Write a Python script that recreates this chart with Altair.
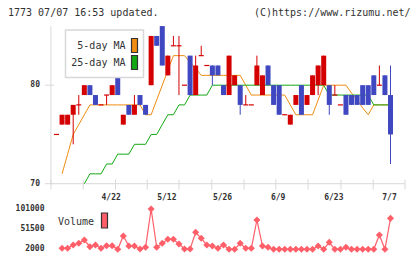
import altair as alt
import pandas as pd

# ---------------- data ----------------
dates = ["4/8", "4/9", "4/10", "4/13", "4/14", "4/15", "4/16", "4/17", "4/20", "4/21",
         "4/22", "4/23", "4/24", "4/27", "4/28", "4/30", "5/1", "5/7", "5/8", "5/11",
         "5/12", "5/13", "5/14", "5/15", "5/18", "5/19", "5/20", "5/21", "5/22", "5/25",
         "5/26", "5/27", "5/28", "5/29", "6/1", "6/2", "6/3", "6/4", "6/5", "6/8",
         "6/9", "6/10", "6/11", "6/12", "6/15", "6/16", "6/17", "6/18", "6/19", "6/22",
         "6/23", "6/24", "6/25", "6/26", "6/29", "6/30", "7/1", "7/2", "7/3", "7/6",
         "7/7"]
opens = [75, 76, 76, 77, 78, 79, 80, 79, 78, 79,
         79, 81, 76, 78, 77, 79, 78, 80, 85, 86,
         81, 84, 84, 80, 83, 79, 83, 82, 82, 82,
         80, 79, 80, 80, 78, 78, 80, 79, 82, 80,
         80, 77, 76, 78, 80, 78, 79, 80, 80, 80,
         79, 78, 79, 79, 79, 80, 80, 81, 80, 81,
         79]
highs = [75, 77, 77, 78, 79, 80, 80, 79, 78, 79,
         80, 81, 77, 78, 79, 79, 78, 85, 85, 86,
         83, 85, 85, 80, 83, 83, 84, 82, 82, 82,
         80, 83, 81, 80, 79, 78, 83, 81, 82, 80,
         80, 77, 77, 79, 80, 79, 81, 82, 83, 80,
         80, 78, 79, 79, 79, 80, 80, 81, 82, 81,
         82]
lows = [75, 76, 76, 74, 77, 79, 79, 78, 78, 78,
        79, 79, 76, 77, 77, 78, 77, 80, 84, 82,
        81, 84, 79, 80, 79, 79, 83, 82, 80, 81,
        79, 79, 80, 77, 78, 78, 80, 79, 80, 78,
        77, 77, 76, 78, 77, 78, 79, 79, 80, 77,
        79, 78, 77, 78, 78, 78, 78, 79, 80, 79,
        72]
closes = [75, 77, 77, 78, 78, 80, 79, 78, 78, 79,
          80, 79, 77, 77, 78, 78, 77, 85, 84, 82,
          83, 84, 84, 80, 79, 82, 83, 82, 81, 81,
          79, 83, 81, 78, 78, 78, 82, 81, 80, 78,
          77, 77, 77, 79, 77, 79, 81, 82, 83, 78,
          79, 78, 77, 78, 78, 78, 78, 79, 80, 79,
          75]
ma5 = [None, 71, 73, 75, 76, 77, 78, 78, 78, 78,
       78, 78, 78, 78, 78, 78, 77, 77, 78.5, 80,
       81.5, 83, 83, 83, 82.3, 81.7, 81, 81, 81, 81,
       81, 81, 81, 81, 80, 79, 79, 79, 79, 79,
       79, 79, 78, 77, 77, 77, 77, 78.5, 80, 80,
       80, 80, 80, 79.2, 78.5, 77.7, 77, 78, 78, 78,
       78]
ma25 = [None, None, None, None, None, 70, 71, 71, 71, 72,
        72, 73, 73, 73, 74, 74, 74, 75, 75, 76,
        77, 77, 78, 78, 79, 79, 79, 79, 80, 80,
        80, 80, 80, 80, 80, 80, 80, 80, 80, 80,
        80, 80, 80, 80, 80, 80, 80, 80, 80, 79,
        79, 79, 79, 79, 79, 79, 79, 78, 78, 78,
        78]
volumes = [None, 4500, 4500, 12600, 16700, 24800, 8400, 12600, 4500, 10900,
           10900, 2000, 34700, 10100, 10100, 2700, 6900, 101000, 6900, 16700,
           26600, 26600, 15000, 2700, 2700, 43700, 29000, 12600, 10100, 4500,
           12600, 2000, 2000, 16700, 4500, 4500, 74000, 10100, 6900, 2000,
           2000, 2000, 2000, 2000, 2000, 2000, 2000, 10100, 2000, 19200,
           2000, 2000, 6900, 2000, 2000, 2000, 2000, 2000, 37100, 2000,
           78000]
date_labels = ["4/22", "5/12", "5/26", "6/9", "6/23", "7/7"]
price_ticks = [70, 80]
vol_ticks = [2000, 51500, 101000]
x_tick_pos = [-1.0, 4.8, 10.6, 16.3, 22.0, 27.9, 33.7, 39.4, 45.2, 51.1, 56.9, 62.6]
x_axis_extent = [-1.0, 62.6]
price_axis_extent = [70, 86]

# ---------------- styles ----------------
RED = "#d40000"
BLUE = "#3f48c0"
ORANGE = "#f08c10"
GREEN = "#12a812"
VOLC = "#ff5f69"
AXIS = "#d9d9d9"
TXT = "#333333"
FONT = "DejaVu Sans Mono"

xs = alt.Scale(domain=[0, 60], range=[56.5, 390.5], zero=False, nice=False)
ys = alt.Scale(domain=[70, 86], range=[183.7, 26.1], zero=False, nice=False)
vs = alt.Scale(domain=[2000, 101000], range=[249.3, 209], zero=False, nice=False)

n = len(dates)
df = pd.DataFrame({"i": list(range(n)), "date": dates, "o": opens, "h": highs,
                   "l": lows, "c": closes, "ma5": ma5, "ma25": ma25, "vol": volumes})

updown = alt.condition("datum.c >= datum.o", alt.value(RED), alt.value(BLUE))
X = alt.X("i:Q", scale=xs, axis=None)

one = pd.DataFrame({"k": [0]})

# axes
axis_df = pd.DataFrame({"x0": [x_axis_extent[0]], "x1": [x_axis_extent[1]],
                        "y0": [price_axis_extent[0]], "y1": [price_axis_extent[1]]})
bottom_axis = alt.Chart(axis_df).mark_rule(color=AXIS, strokeWidth=1).encode(
    x=alt.X("x0:Q", scale=xs, axis=None), x2="x1:Q",
    y=alt.Y("y0:Q", scale=ys, axis=None))
left_axis = alt.Chart(axis_df).mark_rule(color=AXIS, strokeWidth=1).encode(
    x=alt.X("x0:Q", scale=xs, axis=None),
    y=alt.Y("y0:Q", scale=ys, axis=None), y2="y1:Q")
xticks = alt.Chart(pd.DataFrame({"t": x_tick_pos})).mark_rule(color=AXIS, strokeWidth=1).encode(
    x=alt.X("t:Q", scale=xs, axis=None), y=alt.value(179.5), y2=alt.value(189.5))
yticks = alt.Chart(pd.DataFrame({"p": price_ticks})).mark_rule(color=AXIS, strokeWidth=1).encode(
    y=alt.Y("p:Q", scale=ys, axis=None), x=alt.value(45), x2=alt.value(54))
ylabels = alt.Chart(pd.DataFrame({"p": price_ticks})).mark_text(
    font=FONT, fontSize=8, fontWeight="bold", color=TXT, align="right", baseline="middle").encode(
    y=alt.Y("p:Q", scale=ys, axis=None), x=alt.value(40), text=alt.Text("p:Q"))

lab_df = df[df["date"].isin(date_labels)]
xlabels = alt.Chart(lab_df).mark_text(
    font=FONT, fontSize=8, fontWeight="bold", color=TXT, align="center", baseline="middle", dx=-1).encode(
    x=X, y=alt.value(197.5), text="date:N")

# MA lines
line5 = alt.Chart(df).mark_line(color=ORANGE, strokeWidth=1).encode(
    x=X, y=alt.Y("ma5:Q", scale=ys, axis=None))
line25 = alt.Chart(df).mark_line(color=GREEN, strokeWidth=1).encode(
    x=X, y=alt.Y("ma25:Q", scale=ys, axis=None))

# candles
base = alt.Chart(df).transform_calculate(
    xl="datum.i - 0.45", xr="datum.i + 0.45")
wicks = base.mark_rule(strokeWidth=1).encode(
    x=X, y=alt.Y("l:Q", scale=ys, axis=None), y2="h:Q", color=updown)
bodies = base.mark_rect().encode(
    x=alt.X("xl:Q", scale=xs, axis=None), x2="xr:Q",
    y=alt.Y("o:Q", scale=ys, axis=None), y2="c:Q", color=updown)
dojis = base.transform_filter("datum.o == datum.c").mark_rule(strokeWidth=1.2).encode(
    x=alt.X("xl:Q", scale=xs, axis=None), x2="xr:Q",
    y=alt.Y("c:Q", scale=ys, axis=None), color=updown)

# legend (price)
leg_box = alt.Chart(one).mark_rect(fill="white", stroke="#d8d8d8", strokeWidth=1.5).encode(
    x=alt.value(65.5), x2=alt.value(143.5), y=alt.value(30), y2=alt.value(77.5))
leg_df = pd.DataFrame({"name": ["5-day MA", "25-day MA"], "col": [ORANGE, GREEN],
                       "ty": [45.5, 63.0], "sy0": [38.5, 55.5], "sy1": [52.5, 69.5]})
leg_txt = alt.Chart(leg_df).mark_text(font=FONT, fontSize=10, color=TXT, align="right",
                                      baseline="middle").encode(
    x=alt.value(125.5), y=alt.Y("ty:Q", scale=None), text="name:N")
leg_sw = alt.Chart(leg_df).mark_rect(stroke="#333333", strokeWidth=1.2).encode(
    x=alt.value(131.5), x2=alt.value(137.5), y=alt.Y("sy0:Q", scale=None), y2="sy1:Q",
    fill=alt.Fill("col:N", scale=None))

# header
hdr_l = alt.Chart(one).mark_text(text="1773 07/07 16:53 updated.", font=FONT, fontSize=10,
                                 color=TXT, align="left", baseline="middle").encode(
    x=alt.value(8), y=alt.value(12.5))
hdr_r = alt.Chart(one).mark_text(text="(C)https://www.rizumu.net/", font=FONT, fontSize=10,
                                 color=TXT, align="right", baseline="middle").encode(
    x=alt.value(410.5), y=alt.value(12.5))

# volume
vline = alt.Chart(df).mark_line(color=VOLC, strokeWidth=1.2).encode(
    x=X, y=alt.Y("vol:Q", scale=vs, axis=None))
vpts = alt.Chart(df).mark_point(shape="diamond", filled=True, color=VOLC, size=50,
                                opacity=1).encode(
    x=X, y=alt.Y("vol:Q", scale=vs, axis=None))
vlabels = alt.Chart(pd.DataFrame({"v": vol_ticks})).mark_text(
    font=FONT, fontSize=8, fontWeight="bold", color=TXT, align="right", baseline="middle").encode(
    y=alt.Y("v:Q", scale=vs, axis=None), x=alt.value(44.5), text=alt.Text("v:Q", format="d"))
vleg_txt = alt.Chart(one).mark_text(text="Volume", font=FONT, fontSize=10, color=TXT,
                                    align="left", baseline="middle").encode(
    x=alt.value(58), y=alt.value(222))
vleg_sw = alt.Chart(one).mark_rect(fill=VOLC, stroke="#333333", strokeWidth=1.2).encode(
    x=alt.value(101.5), x2=alt.value(107.5), y=alt.value(213), y2=alt.value(228))

chart = alt.layer(
    bottom_axis, left_axis, xticks, yticks, ylabels, xlabels,
    line5, line25, wicks, bodies, dojis,
    leg_box, leg_txt, leg_sw, hdr_l, hdr_r,
    vline, vpts, vlabels, vleg_txt, vleg_sw,
).resolve_scale(y="independent", x="independent").properties(
    width=420, height=259, padding=0,
    autosize=alt.AutoSizeParams(type="none"),
    background="white",
).configure_view(stroke=None)

chart.save("out.html", embed_options={"renderer": "svg", "actions": False})
